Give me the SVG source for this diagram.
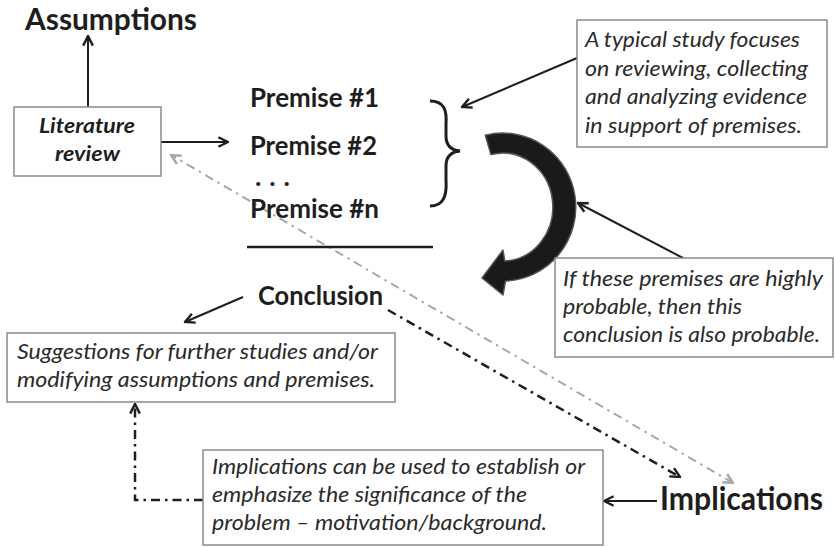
<svg xmlns="http://www.w3.org/2000/svg" width="835" height="547" viewBox="0 0 835 547">
<defs>
<style>
.bold{font-family:Lato,"Open Sans","Liberation Sans",sans-serif;font-weight:700;fill:#1e1e1e}
.it{font-family:Lato,"Open Sans","Liberation Sans",sans-serif;font-style:italic;font-size:22px;fill:#2a2a2a}
.box{fill:#fff;stroke:#8a8a8a;stroke-width:1.5}
.con{fill:none;stroke:#1e1e1e;stroke-width:2}
.dd{fill:none;stroke:#1e1e1e;stroke-width:2.5;stroke-dasharray:9 5 2.5 5}
.gd{fill:none;stroke:#a8a8a8;stroke-width:2;stroke-dasharray:9 5 2.5 5}
</style>
<marker id="ah" viewBox="0 0 10 10" refX="9" refY="5" markerWidth="12" markerHeight="12" markerUnits="userSpaceOnUse" orient="auto-start-reverse">
<path d="M1,1 L9,5 L1,9" fill="none" stroke="#1e1e1e" stroke-width="2"/>
</marker>
<marker id="ahg" viewBox="0 0 10 10" refX="9" refY="5" markerWidth="12" markerHeight="12" markerUnits="userSpaceOnUse" orient="auto-start-reverse">
<path d="M1,1 L9,5 L1,9" fill="none" stroke="#a8a8a8" stroke-width="2"/>
</marker>
</defs>
<rect width="835" height="547" fill="#fff"/>

<g id="connectors">
<line class="con" x1="88" y1="107" x2="88" y2="36" marker-end="url(#ah)"/>
<line class="con" x1="161" y1="142" x2="228" y2="142" marker-end="url(#ah)"/>
<line class="con" x1="577" y1="58" x2="462" y2="107" marker-end="url(#ah)"/>
<line class="con" x1="683" y1="258" x2="578" y2="203" marker-end="url(#ah)"/>
<line class="con" x1="243" y1="297" x2="185" y2="322" marker-end="url(#ah)"/>
<line class="con" x1="657" y1="501" x2="604" y2="501" marker-end="url(#ah)"/>
<path class="dd" d="M203,500 H135 V404" marker-end="url(#ah)"/>
<line class="dd" x1="388" y1="310" x2="680" y2="477" marker-end="url(#ah)"/>
<line class="gd" x1="733" y1="483" x2="171" y2="155" marker-start="url(#ahg)" marker-end="url(#ahg)"/>
</g>

<g id="assumptions">
<text class="bold" x="25" y="30" font-size="30" textLength="172" lengthAdjust="spacingAndGlyphs">Assumptions</text>
</g>

<g id="literature-review">
<rect class="box" x="14" y="107" width="147" height="69"/>
<text class="bold" font-style="italic" font-size="21" x="39" y="133" textLength="96" lengthAdjust="spacingAndGlyphs">Literature</text>
<text class="bold" font-style="italic" font-size="21" x="55" y="161" textLength="65" lengthAdjust="spacingAndGlyphs">review</text>
</g>

<g id="premises">
<text class="bold" x="250" y="107" font-size="27" textLength="129" lengthAdjust="spacingAndGlyphs">Premise #1</text>
<text class="bold" x="250" y="155" font-size="27" textLength="127" lengthAdjust="spacingAndGlyphs">Premise #2</text>
<text class="bold" x="255" y="186" font-size="27" textLength="35" lengthAdjust="spacing">. . .</text>
<text class="bold" x="250" y="218" font-size="27" textLength="129" lengthAdjust="spacingAndGlyphs">Premise #n</text>
<path d="M430,101 C444,101 447,110 446,124 L446,136 C446,145 450,150 460,151 C450,152 446,157 446,166 L446,180 C447,195 444,206 430,206" fill="none" stroke="#1e1e1e" stroke-width="3"/>
<line x1="247" y1="247" x2="433" y2="247" stroke="#1e1e1e" stroke-width="2.5"/>
</g>

<g id="curved-arrow">
<path d="M485.3,135.2 A73,74 0 1,1 505.5,281 L503,295 L482,278 L503,250 L504.7,261 A50,54 0 1,0 490.9,154.6 Z" fill="#1a1a1a" stroke="#555" stroke-width="1.5" stroke-linejoin="round"/>
</g>

<g id="study-note">
<rect class="box" x="577" y="20" width="250" height="127"/>
<text class="it" x="585" y="47" textLength="215" lengthAdjust="spacingAndGlyphs">A typical study focuses</text>
<text class="it" x="585" y="76" textLength="223" lengthAdjust="spacingAndGlyphs">on reviewing, collecting</text>
<text class="it" x="585" y="104" textLength="222" lengthAdjust="spacingAndGlyphs">and analyzing evidence</text>
<text class="it" x="585" y="133" textLength="217" lengthAdjust="spacingAndGlyphs">in support of premises.</text>
</g>

<g id="probable-note">
<rect class="box" x="555" y="258" width="278" height="99"/>
<text class="it" x="563" y="286" textLength="260" lengthAdjust="spacingAndGlyphs">If these premises are highly</text>
<text class="it" x="563" y="314" textLength="179" lengthAdjust="spacingAndGlyphs">probable, then this</text>
<text class="it" x="563" y="342" textLength="257" lengthAdjust="spacingAndGlyphs">conclusion is also probable.</text>
</g>

<g id="conclusion">
<text class="bold" x="258" y="305" font-size="27" textLength="125" lengthAdjust="spacingAndGlyphs">Conclusion</text>
</g>

<g id="suggestions">
<rect class="box" x="7" y="333" width="388" height="69"/>
<text class="it" x="17" y="359" textLength="361" lengthAdjust="spacingAndGlyphs">Suggestions for further studies and/or</text>
<text class="it" x="17" y="387" textLength="358" lengthAdjust="spacingAndGlyphs">modifying assumptions and premises.</text>
</g>

<g id="implications-note">
<rect class="box" x="203" y="450" width="400" height="95"/>
<text class="it" x="212" y="474" textLength="373" lengthAdjust="spacingAndGlyphs">Implications can be used to establish or</text>
<text class="it" x="212" y="502" textLength="315" lengthAdjust="spacingAndGlyphs">emphasize the significance of the</text>
<text class="it" x="212" y="530" textLength="335" lengthAdjust="spacingAndGlyphs">problem – motivation/background.</text>
</g>

<g id="implications">
<text class="bold" x="660" y="510" font-size="32" textLength="163" lengthAdjust="spacingAndGlyphs">Implications</text>
</g>
</svg>
